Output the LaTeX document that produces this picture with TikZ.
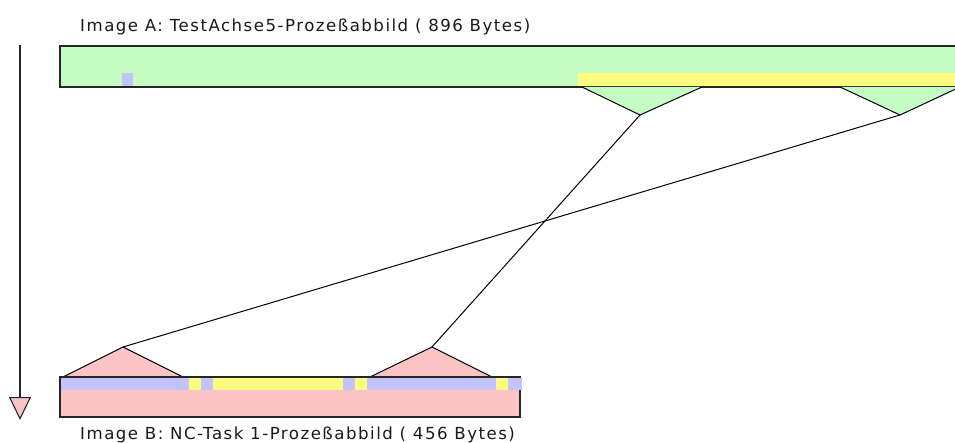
\documentclass[tikz,border=0pt]{standalone}
\usepackage{fontspec}
\newfontfamily\guifont{DejaVu Sans}[LetterSpace=9]
\usetikzlibrary{positioning,arrows.meta,calc}
\definecolor{greenA}{RGB}{196,252,196}
\definecolor{pinkB}{RGB}{252,196,196}
\definecolor{lavender}{RGB}{196,196,252}
\definecolor{yellowC}{RGB}{252,252,128}

\begin{document}
\begin{tikzpicture}[x=1pt,y=-1pt]
\tikzset{frame/.style={draw=black!85,line width=1.3pt}}
\tikzset{side/.style={draw=black,line width=1pt}}
\tikzset{link/.style={draw=black,line width=1pt}}
\tikzset{caption/.style={font=\guifont\fontsize{16.6}{18}\selectfont,text=black!90,anchor=base west,inner sep=0pt}}
\useasboundingbox (0,0) rectangle (955,443);

% time axis
\coordinate (axtop) at (20,45);
\coordinate (axtip) at (20,420);
\draw[line width=1.1pt,black!85,-{Triangle[width=22pt,length=23pt,fill=pinkB]}] (axtop) -- (axtip);

% Image A
\node[caption] (capA) at (80,32) {Image A: TestAchse5-Prozeßabbild ( 896 Bytes)};
\fill[greenA] (60,46) rectangle (960,87);
\fill[lavender] (122,73) rectangle (133,87);
\fill[yellowC] (578,73) rectangle (960,86);
\draw[frame] (960,46) -- (60,46) -- (60,87) -- (960,87);
\coordinate (a1) at (640,115);
\coordinate (a2) at (900,115);
\filldraw[fill=greenA,side] (582,87) -- (a1) -- (702,87);
\filldraw[fill=greenA,side] (840,87) -- (a2) -- (960,87);

% Image B
\fill[pinkB] (60,377) rectangle (520,417);
\coordinate (b1) at (123,347);
\coordinate (b2) at (432,347);
\filldraw[fill=pinkB,side] (63,377) -- (b1) -- (183,377);
\filldraw[fill=pinkB,side] (370,377) -- (b2) -- (492,377);
\draw[frame] (60,377) rectangle (520,417);
\fill[lavender] (60.7,377.7) rectangle (522,390);
\foreach \xa/\xb in {189/201,213/343,355/367,496/508}
  \fill[yellowC] (\xa,377.7) rectangle (\xb,390);
\node[caption] (capB) at (80,439) {Image B: NC-Task 1-Prozeßabbild ( 456 Bytes)};

% mapping
\draw[link] (a1) -- (b2);
\draw[link] (a2) -- (b1);
\end{tikzpicture}
\end{document}
